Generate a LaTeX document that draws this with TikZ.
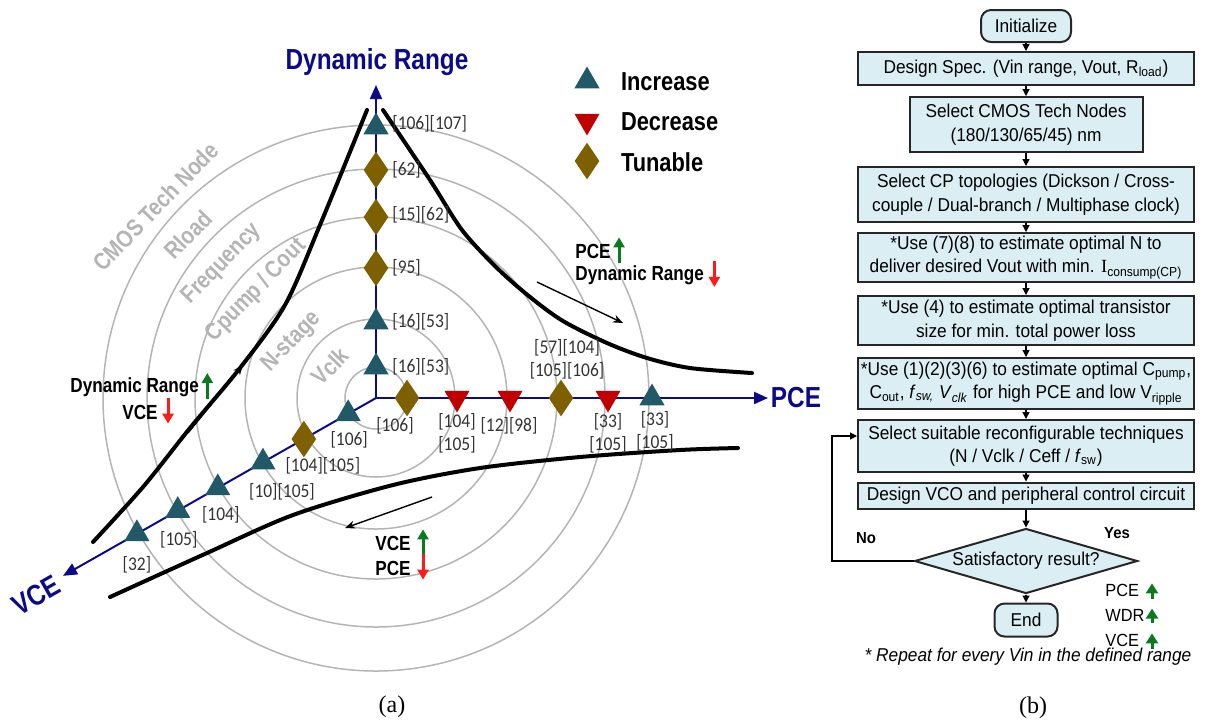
\documentclass[tikz,border=0pt]{standalone}
\usepackage{fontspec}
\setmainfont{Liberation Sans}
\newfontfamily\leftsans[FakeStretch=0.84]{Liberation Sans}
\newfontfamily\flowsans[FakeStretch=0.93]{Liberation Sans}
\newfontfamily\citesans[FakeStretch=0.9]{Carlito}
\newfontfamily\capserif{Liberation Serif}
\usetikzlibrary{arrows.meta,positioning,shapes.geometric,calc}
\definecolor{axisblue}{HTML}{0B0B8A}
\definecolor{incteal}{HTML}{215968}
\definecolor{decred}{HTML}{C00000}
\definecolor{tunbrown}{HTML}{7F6000}
\definecolor{ringgray}{HTML}{B4B4B4}
\definecolor{gaingreen}{HTML}{0A7A1E}
\definecolor{lossred}{HTML}{FF1A1A}
\definecolor{flowfill}{HTML}{DAEEF3}
\newcommand\sub[1]{\textsubscript{#1}}

\begin{document}
\begin{tikzpicture}[x=0.5pt,y=-0.5pt,
  inc/.style={regular polygon,regular polygon sides=3,fill=incteal,minimum size=14.5pt,inner sep=0pt},
  dec/.style={inc,fill=decred,shape border rotate=180},
  tun/.style={diamond,fill=tunbrown,minimum width=12.5pt,minimum height=18.5pt,inner sep=0pt},
  cite/.style={font=\citesans\fontsize{9.7}{11.3}\selectfont,text=black!80,inner sep=0pt,align=center},
  ring/.style={draw=ringgray,line width=0.75pt},
  ringname/.style={font=\leftsans\bfseries\fontsize{12}{14}\selectfont,text=ringgray,rotate=46},
  axisline/.style={draw=axisblue,line width=1pt,-{Triangle[width=6pt,length=7pt]}},
  axisname/.style={font=\leftsans\bfseries\fontsize{14.5}{16}\selectfont,text=axisblue},
  trend/.style={line width=2pt,line cap=round},
  hint/.style={line width=0.7pt,-{Stealth[length=5pt,width=4pt]}},
  note/.style={font=\leftsans\bfseries\fontsize{10.2}{12}\selectfont,inner sep=0pt,anchor=west},
  gain/.style={draw=gaingreen,line width=1.5pt,-{Triangle[width=5.5pt,length=5pt]}},
  loss/.style={draw=lossred,line width=1.5pt,-{Triangle[width=5.5pt,length=5pt]}},
  legendtext/.style={font=\leftsans\bfseries\fontsize{13}{15}\selectfont,anchor=west},
  box/.style={draw=black!85,line width=1pt,fill=flowfill,align=center,inner sep=1pt,
    font=\flowsans\fontsize{9.3}{11.7}\selectfont,minimum width=168pt},
  term/.style={box,rounded corners=5pt},
  flow/.style={line width=0.6pt,-{Triangle[width=3.5pt,length=3.5pt]}},
  caption/.style={font=\capserif\fontsize{12}{14}\selectfont}]
  \useasboundingbox (0,0) rectangle (1209,720);

  % (a) design space
  \coordinate (O) at (376,398);
  \foreach \r in {31,79,131,181,229,273}
    \draw[ring] (O) circle[radius=\r];
  \foreach \r/\a/\name in {56/-145/Vclk, 101/-146.5/N-stage, 161/-138/{Cpump / Cout},
      204/-139/Frequency, 249/-139/Rload, 292/-139/CMOS Tech Node}
    \node[ringname] (ring-\r) at ([shift={(\a:\r)}]O) {\name};

  \draw[trend] plot[smooth] coordinates {(367,110) (320,225) (285,305) (240,368) (190,428) (143,487) (93,542)};
  \draw[trend] plot[smooth] coordinates {(383,110) (430,180) (462,230) (497,268) (530,297) (563,321) (607,343) (647,358) (690,368) (752,373)};
  \draw[trend] plot[smooth] coordinates {(110,597) (207,553) (293,515) (393,485) (480,468) (580,457) (680,450) (738,448)};

  \coordinate (drtip) at (376,85);
  \coordinate (pcetip) at (768,398);
  \coordinate (vcetip) at ([shift={(150.4:360)}]O);
  \draw[axisline] (O) -- (drtip);
  \draw[axisline] (O) -- (pcetip);
  \draw[axisline] (O) -- (vcetip);
  \node[axisname] (drname) at (377,62) {Dynamic Range};
  \node[axisname] (pcename) at (796,398) {PCE};
  \node[axisname,rotate=29.6] (vcename) at (36,595) {VCE};

  \foreach \n/\a/\r/\kind/\txt/\anc/\dx/\dy in {
      dr1/-90/271/inc/{[106][107]}/west/16/-3, dr2/-90/228/tun/{[62]}/west/16/0,
      dr3/-90/181/tun/{[15][62]}/west/16/-2, dr4/-90/130/tun/{[95]}/west/16/0,
      dr5/-90/76/inc/{[16][53]}/west/16/0, dr6/-90/31/inc/{[16][53]}/west/16/0,
      pc1/0/31/tun/{[106]}/center/-12/28, pc2/0/81/dec/{[104]\\{}[105]}/center/0/35,
      pc3/0/134/dec/{[12][98]}/center/-1/28, pc4/0/185/tun/{[57][104]\\{}[105][106]}/center/6/-38.5,
      pc5/0/232/dec/{[33]\\{}[105]}/center/0/35.5, pc6/0/276/inc/{[33]\\{}[105]}/center/3/33,
      vc1/150.4/32/inc/{[106]}/center/1/26, vc2/150.4/83/tun/{[104][105]}/center/19/27,
      vc3/150.4/130/inc/{[10][105]}/center/19/30, vc4/150.4/182/inc/{[104]}/center/3/27,
      vc5/150.4/228/inc/{[105]}/center/1/29, vc6/150.4/275/inc/{[32]}/center/0/31}{
    \node[\kind] (\n) at ([shift={(\a:\r)}]O) {};
    \node[cite,anchor=\anc] (\n-cite) at ([shift={(\dx,\dy)}]\n) {\txt};
  }

  % legend
  \foreach \kind/\y/\txt in {inc/81/Increase, dec/121/Decrease, tun/161/Tunable}{
    \node[\kind] (leg-\kind) at (587,\y) {};
    \node[legendtext] (leg-\kind-txt) at (614,\y+1) {\txt};
  }

  % trade-off notes
  \node[note] (ne-pce) at (575,251) {PCE};
  \node[note] (ne-dr) at (575,275) {Dynamic Range};
  \draw[gain] ([xshift=4pt,yshift=-2pt]ne-pce.south east) -- ([xshift=4pt,yshift=3pt]ne-pce.north east);
  \draw[loss] ([xshift=5pt,yshift=2pt]ne-dr.north east) -- ([xshift=5pt,yshift=-1pt]ne-dr.south east);
  \node[note] (nw-dr) at (70,387) {Dynamic Range};
  \node[note] (nw-vce) at (122,412) {VCE};
  \draw[gain] ([xshift=4pt,yshift=-1pt]nw-dr.south east) -- ([xshift=4pt,yshift=2pt]nw-dr.north east);
  \draw[loss] ([xshift=5pt,yshift=3pt]nw-vce.north east) -- ([xshift=5pt,yshift=-2pt]nw-vce.south east);
  \node[note] (s-vce) at (375,543) {VCE};
  \node[note] (s-pce) at (375,568) {PCE};
  \draw[gain] ([xshift=6pt,yshift=-2pt]s-vce.south east) -- ([xshift=6pt,yshift=3pt]s-vce.north east);
  \draw[loss] ([xshift=6pt,yshift=3pt]s-pce.north east) -- ([xshift=6pt,yshift=-2pt]s-pce.south east);

  \coordinate (ne-from) at (537,282);
  \coordinate (ne-to) at (623,323);
  \coordinate (nw-from) at (188,433);
  \coordinate (nw-to) at (243,365);
  \coordinate (s-from) at (432,497);
  \coordinate (s-to) at (345,528);
  \draw[hint] (ne-from) -- (ne-to);
  \draw[hint] (nw-from) -- (nw-to);
  \draw[hint] (s-from) -- (s-to);

  \node[caption] (capa) at (392,707) {(a)};

  % (b) design flow
  \node[term,minimum width=45pt,minimum height=16pt] (init) at (1026,26) {Initialize};
  \node[box,minimum height=16.5pt] (spec) at (1026,68.5) {Design Spec. (Vin range, Vout, R\sub{load})};
  \node[box,minimum width=116.5pt,minimum height=27.5pt] (tech) at (1026,124.5) {Select CMOS Tech Nodes\\(180/130/65/45) nm};
  \node[box,minimum height=27.5pt] (topo) at (1026,194.5) {Select CP topologies (Dickson / Cross-\\couple / Dual-branch / Multiphase clock)};
  \node[box,minimum height=24.5pt] (stage) at (1026,257.5) {*Use (7)(8) to estimate optimal N to\\deliver desired Vout with min. {\capserif I}\sub{consump(CP)}};
  \node[box,minimum height=24.5pt] (size) at (1026,320.5) {*Use (4) to estimate optimal transistor\\size for min. total power loss};
  \node[box,minimum height=25.5pt] (capsel) at (1026,383.5) {*Use (1)(2)(3)(6) to estimate optimal C\sub{pump},\\C\sub{out}, \textit{f}\sub{\textit{sw,}} \textit{V}\sub{\textit{clk}} for high PCE and low V\sub{ripple}};
  \node[box,minimum height=26pt] (reconf) at (1026,446) {Select suitable reconfigurable techniques\\(N / Vclk / Ceff / \textit{f}\sub{sw})};
  \node[box,minimum height=13pt] (vco) at (1026,495.5) {Design VCO and peripheral control circuit};
  \node[box,diamond,aspect=3.4,inner sep=0pt,minimum width=111.5pt,minimum height=32.5pt] (sat) at (1026,561) {Satisfactory result?};
  \node[term,minimum width=31.5pt,minimum height=16.5pt] (stop) at (1026,620) {End};
  \foreach \a/\b in {init/spec, spec/tech, tech/topo, topo/stage, stage/size, size/capsel, capsel/reconf, reconf/vco, vco/sat, sat/stop}
    \draw[flow] (\a) -- (\b);
  \coordinate (nobend) at (832,436);
  \draw[flow] (sat.west) -| (nobend) -- (nobend -| reconf.west);
  \node[font=\flowsans\bfseries\fontsize{8}{9}\selectfont] (no) at (866,538) {No};
  \node[font=\flowsans\bfseries\fontsize{8}{9}\selectfont] (yes) at (1117,533) {Yes};
  \foreach \t/\y in {PCE/590, WDR/615, VCE/640}{
    \node[font=\flowsans\fontsize{8.8}{10}\selectfont,anchor=west,inner sep=0pt] (res-\t) at (1105,\y) {\t};
    \draw[gain,line width=1.5pt,-{Triangle[width=6pt,length=5pt]}] (res-\t.south -| 1152,0) ++(0,2) -- (res-\t.north -| 1152,0);
  }
  \node[font=\flowsans\itshape\fontsize{9.3}{11}\selectfont] (repeat) at (1028,657) {* Repeat for every Vin in the defined range};
  \node[caption] (capb) at (1033,708) {(b)};
\end{tikzpicture}
\end{document}
